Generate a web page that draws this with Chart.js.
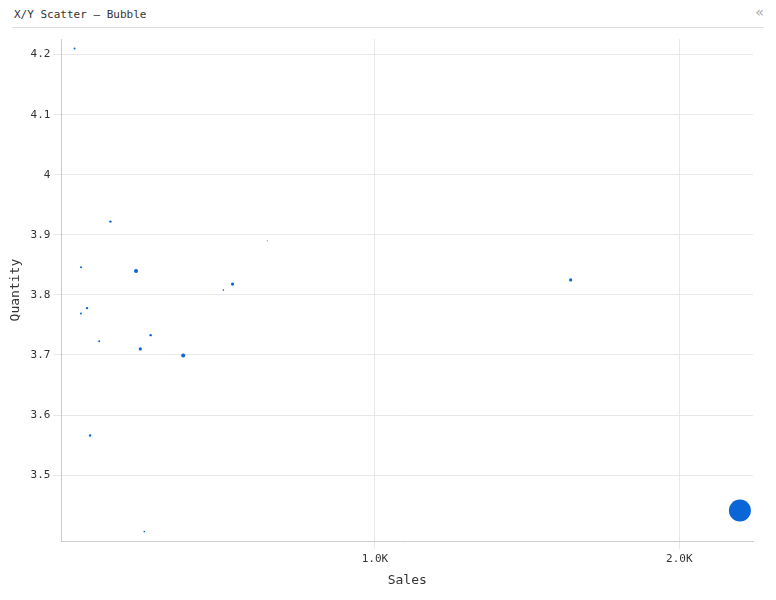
<!DOCTYPE html>
<html><head><meta charset="utf-8">
<script src="https://cdn.jsdelivr.net/npm/chart.js@4/dist/chart.umd.min.js"></script>
<style>
body{margin:0;background:#fff;font-family:"DejaVu Sans Mono",monospace;}
#hdr{position:absolute;left:12px;top:0;width:752px;height:27px;border-bottom:1px solid #ddd;font-size:11px;color:#333;}
#hdr span{position:absolute;left:2px;top:8px}
#hdr b{position:absolute;right:0;top:4px;font-weight:normal;color:#aaa;font-size:14px}
#wrap{position:absolute;left:0;top:28px;width:776px;height:572px}
</style></head><body>
<div id="hdr"><span>X/Y Scatter — Bubble</span><b>«</b></div>
<div id="wrap"><canvas id="c"></canvas></div>
<script>
const sales=[13,131,34,215,646,532,502,54,34,94,263,229,370,64,242,1643,2199];
const quantity=[4.21,3.922,3.846,3.840,3.89,3.818,3.808,3.778,3.769,3.723,3.733,3.71,3.699,3.566,3.406,3.825,3.441];
const sizes=[1,1.2,1,2,0.5,1.6,0.8,1.2,1,1,1.2,1.6,2,1.2,0.8,1.6,11];
const yTicks=[3.5,3.6,3.7,3.8,3.9,4,4.1,4.2];
const xTicks=[1000,2000];
new Chart(document.getElementById('c'),{
type:'bubble',
data:{datasets:[{data:sales.map((s,i)=>({x:s,y:quantity[i],r:sizes[i]})),backgroundColor:'#0a66d6',borderWidth:0}]},
options:{responsive:true,maintainAspectRatio:false,animation:false,
layout:{padding:{right:23,bottom:8,left:4}},
plugins:{legend:{display:false},tooltip:{enabled:false}},
scales:{
x:{type:'linear',min:-30,max:2242,afterBuildTicks:a=>{a.ticks=xTicks.map(v=>({value:v}))},
ticks:{callback:v=>(v/1000).toFixed(1)+'K',font:{family:'DejaVu Sans Mono',size:11},color:'#333'},
grid:{color:'#e8e8e8'},border:{color:'#ccc'},
title:{display:true,text:'Sales',font:{family:'DejaVu Sans Mono',size:13},color:'#333'}},
y:{type:'linear',min:3.39,max:4.226,afterBuildTicks:a=>{a.ticks=yTicks.map(v=>({value:v}))},
ticks:{callback:v=>String(+v.toFixed(1)),font:{family:'DejaVu Sans Mono',size:11},color:'#333'},
grid:{color:'#e8e8e8'},border:{color:'#ccc'},
title:{display:true,text:'Quantity',font:{family:'DejaVu Sans Mono',size:13},color:'#333'}}
}}});
</script></body></html>
